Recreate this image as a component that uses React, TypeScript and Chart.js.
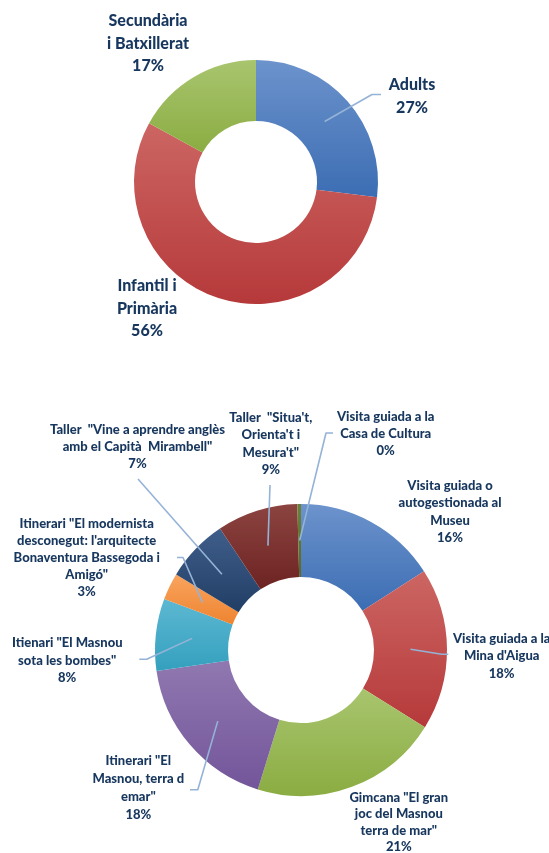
import { useEffect, useRef } from "react";
import { Chart, registerables } from "chart.js";

Chart.register(...registerables);

// ---------- DATA ----------
const audienceLabels: string[][] = [
  ["Adults"],
  ["Infantil i", "Primària"],
  ["Secundària", "i Batxillerat"],
];
const audienceValues: number[] = [27, 56, 17];

const activityLabels: string[][] = [
  ["Visita guiada o", "autogestionada al", "Museu"],
  ["Visita guiada a la", "Mina d'Aigua"],
  ['Gimcana "El gran', "joc del Masnou", 'terra de mar"'],
  ['Itinerari "El', "Masnou, terra d", 'emar"'],
  ['Itienari "El Masnou', 'sota les bombes"'],
  ['Itinerari "El modernista', "desconegut: l'arquitecte", "Bonaventura Bassegoda i", 'Amigó"'],
  ['Taller  "Vine a aprendre anglès', 'amb el Capità  Mirambell"'],
  ['Taller  "Situa\'t,', "Orienta't i", 'Mesura\'t"'],
  ["Visita guiada a la", "Casa de Cultura"],
];
const activityValues: number[] = [16, 18, 21, 18, 8, 3, 7, 9, 0.4];

// ---------- STYLES ----------
const audienceLight = ["#6C93CC", "#CC6663", "#A8C56E"];
const audienceDark = ["#3C6DB3", "#B6393A", "#8BAC42"];

const activityLight = [
  "#6C93CC", "#CC6663", "#A8C56E", "#9078B0", "#5DB8D2",
  "#F9A45F", "#3F5E8A", "#8C4441", "#6B8238",
];
const activityDark = [
  "#3C6DB3", "#B6393A", "#8BAC42", "#73559A", "#34A0BE",
  "#EE8430", "#213E65", "#6C2321", "#56692A",
];

const TEXT_COLOR = "#17375E";
const LEADER_COLOR = "#95B3D7";
const FONT = "Lato";
const WEIGHT = "900";

type LabelLayout = { x: number; y: number; lh: number; leader?: number[][] };

// canvas coordinates
const audienceLayout: LabelLayout[] = [
  { x: 412, y: 85, lh: 22.5, leader: [[372, 94.5], [381, 94.5]] },
  { x: 147, y: 286, lh: 22.5 },
  { x: 148, y: 21, lh: 22.5 },
];
const activityLayout: LabelLayout[] = [
  { x: 450, y: 105.7, lh: 17.5 },
  { x: 501.7, y: 259, lh: 17.2, leader: [[441.7, 274.3], [448.3, 274.3]] },
  { x: 398.8, y: 417.5, lh: 16.5 },
  { x: 138.3, y: 381, lh: 18, leader: [[197.8, 409.8], [190, 409.8]] },
  { x: 67.2, y: 262.7, lh: 17.7, leader: [[146.7, 279.3], [139.3, 279.3]] },
  { x: 86.7, y: 144.3, lh: 17, leader: [[183, 177.5], [177, 177.5]] },
  { x: 137.5, y: 50, lh: 17, leader: [[138, 99]] },
  { x: 270.8, y: 38, lh: 17.3, leader: [[270, 105]] },
  { x: 385.7, y: 37, lh: 17, leader: [[326, 53], [333, 53]] },
];

function sliceGradient(light: string[], dark: string[], cutoutRatio: number) {
  return (c: any) => {
    const chart = c.chart;
    const area = chart.chartArea;
    const i = c.dataIndex;
    if (i === undefined) return dark[0];
    if (!area) return dark[i];
    const data = c.dataset.data as number[];
    const total = data.reduce((a, b) => a + b, 0);
    let before = 0;
    for (let k = 0; k < i; k++) before += data[k];
    const a0 = (before / total) * Math.PI * 2 - Math.PI / 2;
    const a1 = ((before + data[i]) / total) * Math.PI * 2 - Math.PI / 2;
    const cy = (area.top + area.bottom) / 2;
    const R = Math.min(area.width, area.height) / 2;
    const r = R * cutoutRatio;
    let minY = Infinity;
    let maxY = -Infinity;
    for (let k = 0; k <= 40; k++) {
      const a = a0 + ((a1 - a0) * k) / 40;
      for (const rad of [R, r]) {
        const y = cy + Math.sin(a) * rad;
        if (y < minY) minY = y;
        if (y > maxY) maxY = y;
      }
    }
    if (maxY - minY < 1) maxY = minY + 1;
    const g = chart.ctx.createLinearGradient(0, minY, 0, maxY);
    g.addColorStop(0, light[i]);
    g.addColorStop(1, dark[i]);
    return g;
  };
}

function outLabels(layout: LabelLayout[], fontSize: number) {
  return {
    id: "outLabels",
    afterDatasetsDraw(chart: any) {
      const ctx = chart.ctx as CanvasRenderingContext2D;
      const meta = chart.getDatasetMeta(0);
      const data = chart.data.datasets[0].data as number[];
      const total = data.reduce((a: number, b: number) => a + b, 0);
      ctx.save();
      meta.data.forEach((arc: any, i: number) => {
        const L = layout[i];
        if (!L) return;
        if (L.leader) {
          const p = arc.tooltipPosition(false);
          ctx.beginPath();
          ctx.strokeStyle = LEADER_COLOR;
          ctx.lineWidth = 1.6;
          ctx.lineJoin = "round";
          ctx.moveTo(p.x, p.y);
          L.leader.forEach((q) => ctx.lineTo(q[0], q[1]));
          ctx.stroke();
        }
        const lines: string[] = [...(chart.data.labels[i] as string[])];
        lines.push(Math.round((data[i] / total) * 100) + "%");
        ctx.fillStyle = TEXT_COLOR;
        ctx.font = `${WEIGHT} ${fontSize}px ${FONT}`;
        ctx.textAlign = "center";
        ctx.textBaseline = "middle";
        lines.forEach((t, k) => ctx.fillText(t, L.x, L.y + k * L.lh));
      });
      ctx.restore();
    },
  };
}

export default function App() {
  const topRef = useRef<HTMLCanvasElement>(null);
  const botRef = useRef<HTMLCanvasElement>(null);

  useEffect(() => {
    const common = {
      responsive: false,
      animation: false as const,
      devicePixelRatio: 1,
      events: [] as any[],
      plugins: { legend: { display: false }, tooltip: { enabled: false } },
    };
    const c1 = new Chart(topRef.current!, {
      type: "doughnut",
      data: {
        labels: audienceLabels,
        datasets: [
          {
            data: audienceValues,
            backgroundColor: sliceGradient(audienceLight, audienceDark, 0.5),
            borderWidth: 0,
          },
        ],
      },
      options: {
        ...common,
        cutout: "50%",
        layout: { padding: { left: 134, top: 60, right: 171, bottom: 76 } },
      } as any,
      plugins: [outLabels(audienceLayout, 16)],
    });
    const c2 = new Chart(botRef.current!, {
      type: "doughnut",
      data: {
        labels: activityLabels,
        datasets: [
          {
            data: activityValues,
            backgroundColor: sliceGradient(activityLight, activityDark, 0.5),
            borderWidth: 0,
          },
        ],
      },
      options: {
        ...common,
        cutout: "50%",
        layout: { padding: { left: 155, top: 124, right: 102, bottom: 57 } },
      } as any,
      plugins: [outLabels(activityLayout, 13)],
    });
    return () => {
      c1.destroy();
      c2.destroy();
    };
  }, []);

  return (
    <div
      style={{
        position: "fixed",
        left: 0,
        top: 0,
        width: 549,
        height: 853,
        background: "#ffffff",
        overflow: "hidden",
      }}
    >
      <canvas ref={topRef} width={549} height={380} style={{ position: "absolute", left: 0, top: 0 }} />
      <canvas ref={botRef} width={549} height={473} style={{ position: "absolute", left: 0, top: 380 }} />
    </div>
  );
}
